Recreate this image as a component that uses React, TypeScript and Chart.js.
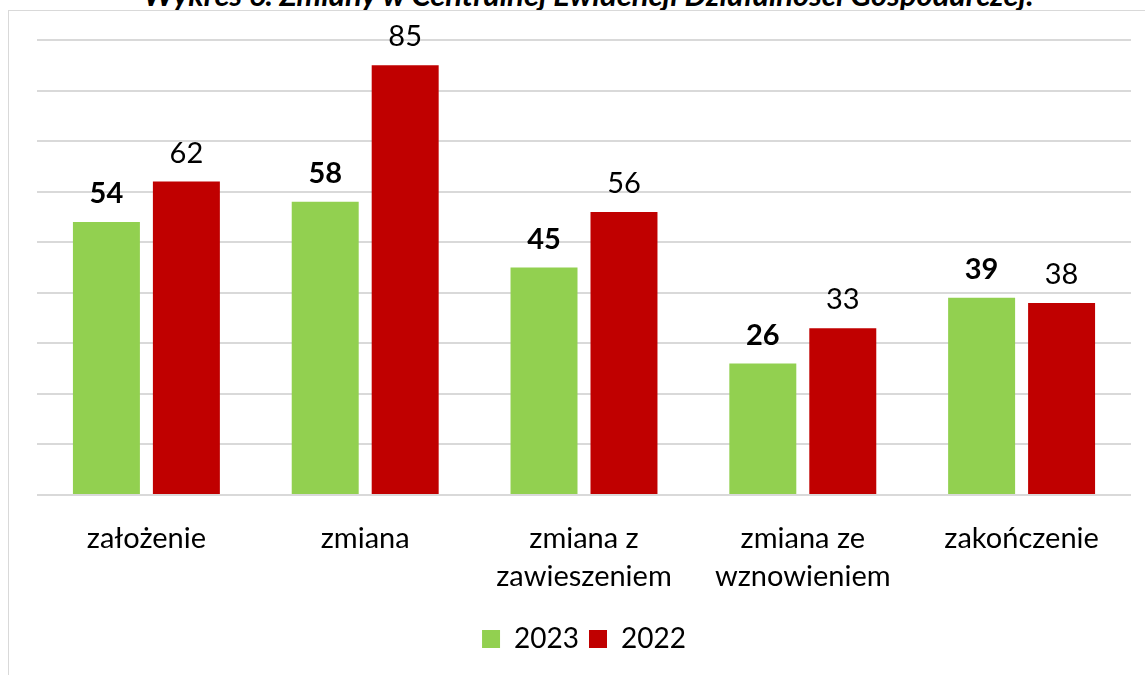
import React, { useEffect, useRef } from "react";
import { Chart, registerables } from "chart.js";

Chart.register(...registerables);

const categories: (string | string[])[] = [
  "założenie",
  "zmiana",
  ["zmiana z", "zawieszeniem"],
  ["zmiana ze", "wznowieniem"],
  "zakończenie",
];
const values2023 = [54, 58, 45, 26, 39];
const values2022 = [62, 85, 56, 33, 38];
const seriesLabels = ["2023", "2022"];
const titleText = "Wykres 6. Zmiany w Centralnej Ewidencji Działalności Gospodarczej.";

const FONT = "Lato, 'Open Sans', sans-serif";

const valueLabels = {
  id: "valueLabels",
  afterDatasetsDraw(chart: any) {
    const ctx = chart.ctx;
    ctx.save();
    ctx.fillStyle = "#000";
    ctx.textAlign = "center";
    ctx.textBaseline = "alphabetic";
    chart.data.datasets.forEach((ds: any, di: number) => {
      const meta = chart.getDatasetMeta(di);
      ctx.font = `${di === 0 ? "bold " : ""}29px ${FONT}`;
      meta.data.forEach((el: any, i: number) => {
        ctx.fillText(String(ds.data[i]), el.x, el.y - 19);
      });
    });
    ctx.restore();
  },
};

export default function App() {
  const ref = useRef<HTMLCanvasElement>(null);
  useEffect(() => {
    if (!ref.current) return;
    const chart = new Chart(ref.current, {
      type: "bar",
      data: {
        labels: categories,
        datasets: [
          {
            label: seriesLabels[0],
            data: values2023,
            backgroundColor: "#92D050",
            categoryPercentage: 0.731,
            barPercentage: 0.8375,
          },
          {
            label: seriesLabels[1],
            data: values2022,
            backgroundColor: "#C00000",
            categoryPercentage: 0.731,
            barPercentage: 0.8375,
          },
        ],
      },
      options: {
        animation: false,
        responsive: false,
        maintainAspectRatio: false,
        layout: { padding: { left: 28, right: 14, top: 29, bottom: 12 } },
        plugins: {
          title: { display: false },
          tooltip: { enabled: false },
          legend: {
            position: "bottom",
            labels: {
              boxWidth: 18,
              boxHeight: 18,
              padding: 10,
              color: "#000",
              font: { family: FONT, size: 28 },
            },
          },
        },
        scales: {
          x: {
            grid: { display: false, drawTicks: false },
            border: { display: false },
            afterFit: (scale: any) => {
              scale.height = 120;
            },
            ticks: {
              color: "#000",
              padding: 25,
              maxRotation: 0,
              autoSkip: false,
              font: { family: FONT, size: 29, lineHeight: 1.31 },
            },
          },
          y: {
            min: 0,
            max: 90,
            ticks: { display: false, stepSize: 10 },
            grid: { color: "#d9d9d9", lineWidth: 2, drawTicks: false },
            border: { display: false },
          },
        },
      },
      plugins: [valueLabels],
    });
    return () => chart.destroy();
  }, []);

  return (
    <div
      style={{
        position: "fixed",
        left: 0,
        top: 0,
        width: 1145,
        height: 675,
        overflow: "hidden",
        background: "#fff",
      }}
    >
      <div
        style={{
          position: "absolute",
          left: 8,
          top: -21,
          width: 1161,
          textAlign: "center",
          fontFamily: FONT,
          fontStyle: "italic",
          fontWeight: "bold",
          fontSize: 31,
          lineHeight: "31px",
          color: "#000",
          whiteSpace: "nowrap",
        }}
      >
        {titleText}
      </div>
      <div
        style={{
          position: "absolute",
          left: 8,
          top: 10,
          width: 1160,
          height: 700,
          border: "1px solid #d9d9d9",
          boxSizing: "border-box",
        }}
      />
      <canvas
        ref={ref}
        width={1136}
        height={664}
        style={{ position: "absolute", left: 9, top: 11, width: 1136, height: 664 }}
      />
    </div>
  );
}
